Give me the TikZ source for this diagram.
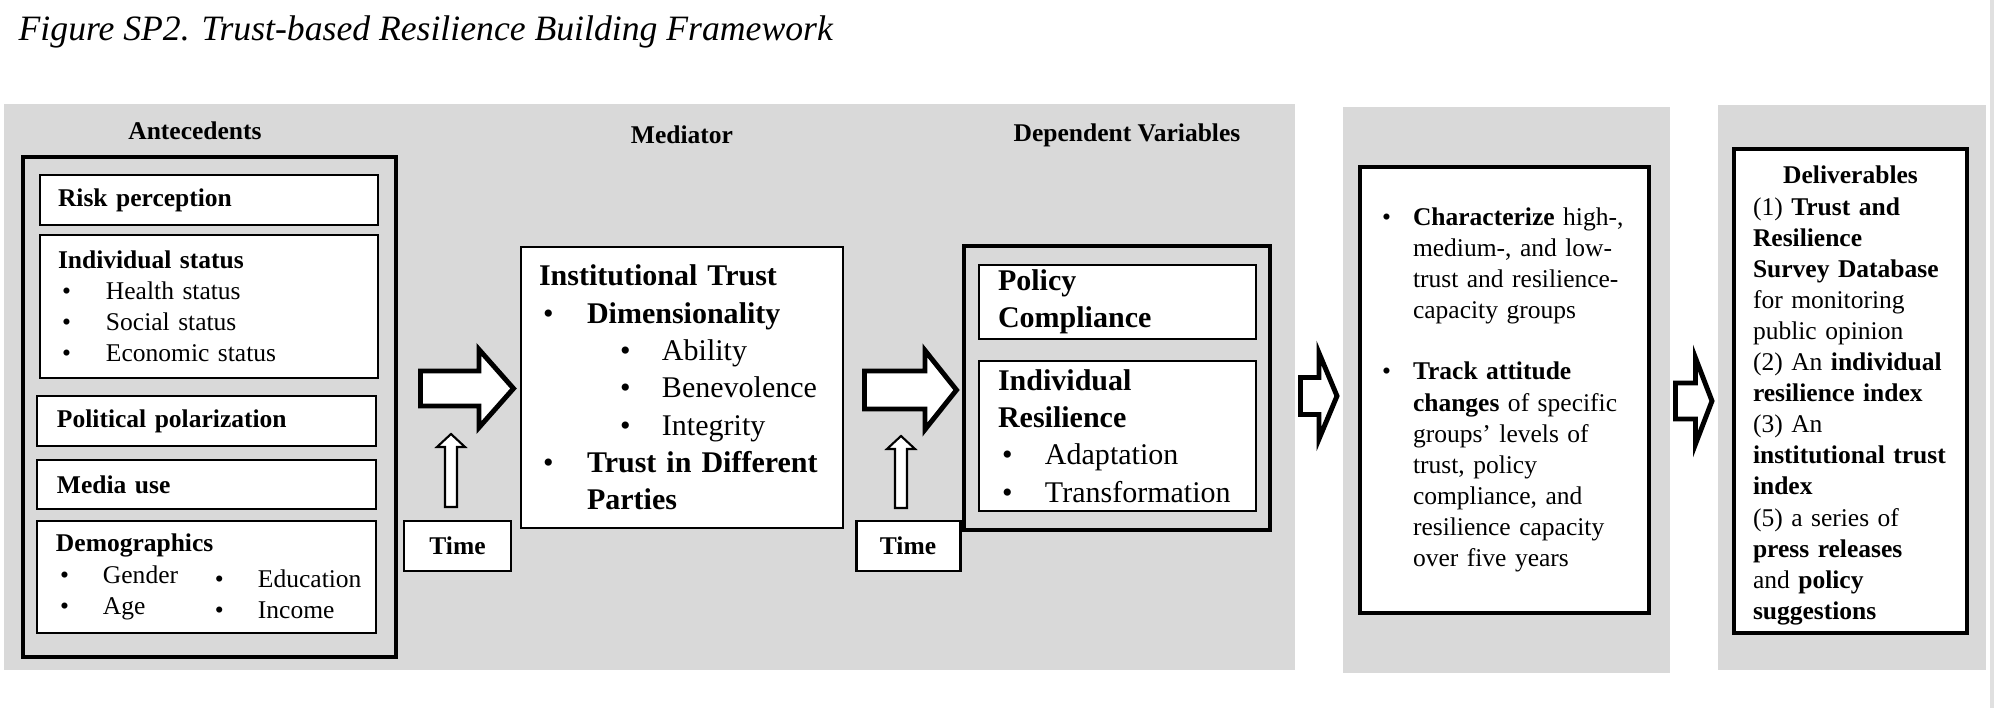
\documentclass[tikz,border=0pt]{standalone}
\usepackage{fontspec}
\setmainfont{Liberation Serif}
\usepackage{tikz}
\definecolor{panelgray}{RGB}{217,217,217}
\newcommand{\bodysize}{\fontsize{7.26pt}{8.85pt}\selectfont}
\newcommand{\bigsize}{\fontsize{8.54pt}{10.6pt}\selectfont}
\newcommand{\padded}[2]{\leftskip=#1\relax #2\par}
\newcommand{\bul}[1]{\makebox[#1][l]{\hspace{0.04cm}\textbullet}}
\newcommand{\blockarrow}[6]{%
	\draw[blockarr] (#1,#4-#5) -- (#2,#4-#5) -- (#2,#4-#6) -- (#3,#4)
		-- (#2,#4+#6) -- (#2,#4+#5) -- (#1,#4+#5) -- cycle;}
\newcommand{\timearrow}[3]{%
	\draw[timearr] (#1-0.06,#2) -- (#1-0.06,#3+0.13) -- (#1-0.14,#3+0.13) -- (#1,#3)
		-- (#1+0.14,#3+0.13) -- (#1+0.06,#3+0.13) -- (#1+0.06,#2) -- cycle;}

\begin{document}
\begin{tikzpicture}[y=-1cm]
	\tikzstyle{box} = [draw, fill=white, line width=0.8pt, inner sep=0pt, align=left, font=\bodysize]
	\tikzstyle{bigbox} = [box, font=\bigsize]
	\tikzstyle{outer} = [draw, line width=1.15pt, inner sep=0pt]
	\tikzstyle{head} = [inner sep=0pt, font=\bodysize\bfseries]
	\tikzstyle{timebox} = [draw, fill=white, line width=0.85pt, minimum height=0.5cm, inner sep=0pt, font=\bodysize\bfseries]
	\tikzstyle{blockarr} = [draw, fill=white, line width=1.4pt, line join=miter]
	\tikzstyle{timearr} = [draw, fill=white, line width=0.6pt]

	\fill[white] (0,0) rectangle (19.94,7.08);
	\path[use as bounding box] (0,0) rectangle (19.94,7.08);
	\fill[black!12] (19.90,0) rectangle (19.94,7.08);
	\fill[panelgray] (0.04,1.04) rectangle (12.95,6.70);
	\fill[panelgray] (13.43,1.07) rectangle (16.70,6.73);
	\fill[panelgray] (17.18,1.05) rectangle (19.86,6.70);

	\node[anchor=base west, inner sep=0pt, font=\fontsize{10.15pt}{12pt}\selectfont\itshape] (title) at (0.18,0.41) {Figure SP2. Trust-based Resilience Building Framework};

	\node[head] (anthead) at (1.95,1.31) {Antecedents};
	\node[head] (medhead) at (6.82,1.35) {Mediator};
	\node[head] (dvhead) at (11.27,1.35) {Dependent Variables};

	\node[outer, minimum width=3.73cm, minimum height=5.00cm] (ante) at (2.095,4.07) {};
	\node[box, text width=3.38cm, minimum height=0.50cm] (risk) at (2.09,2.00) {\padded{0.18cm}{\textbf{Risk perception}}};
	\node[box, text width=3.38cm, minimum height=1.43cm] (indiv) at (2.09,3.065) {\padded{0.18cm}{\textbf{Individual status}\\
		\bul{0.48cm}Health status\\
		\bul{0.48cm}Social status\\
		\bul{0.48cm}Economic status}};
	\node[box, text width=3.39cm, minimum height=0.50cm] (polit) at (2.065,4.21) {\padded{0.20cm}{\textbf{Political polarization}}};
	\node[box, text width=3.39cm, minimum height=0.49cm] (media) at (2.065,4.845) {\padded{0.20cm}{\textbf{Media use}}};
	\node[box, text width=3.39cm, minimum height=1.12cm] (demo) at (2.065,5.77) {\padded{0.19cm}{\textbf{Demographics}\\
		\makebox[1.55cm][l]{\bul{0.47cm}Gender}\rlap{\raisebox{-0.04cm}{\bul{0.47cm}Education}}\\
		\makebox[1.55cm][l]{\bul{0.47cm}Age}\rlap{\raisebox{-0.04cm}{\bul{0.47cm}Income}}}};

	\node[bigbox, text width=3.22cm, minimum height=2.81cm] (med) at (6.82,3.875) {\padded{0.18cm}{\textbf{Institutional Trust}\\
		\bul{0.48cm}\textbf{Dimensionality}\\
		\hspace*{0.77cm}\bul{0.46cm}Ability\\
		\hspace*{0.77cm}\bul{0.46cm}Benevolence\\
		\hspace*{0.77cm}\bul{0.46cm}Integrity\\
		\bul{0.48cm}\textbf{Trust in Different}\\
		\hspace*{0.48cm}\textbf{Parties}}};

	\node[outer, minimum width=3.06cm, minimum height=2.84cm] (dv) at (11.17,3.88) {};
	\node[bigbox, text width=2.77cm, minimum height=0.74cm] (policy) at (11.175,3.02) {\padded{0.19cm}{\textbf{Policy}\\
		\textbf{Compliance}}};
	\node[bigbox, text width=2.77cm, minimum height=1.50cm] (indres) at (11.175,4.36) {\padded{0.19cm}{\textbf{Individual}\\
		\textbf{Resilience}\\
		\bul{0.47cm}Adaptation\\
		\bul{0.47cm}Transformation}};

	\node[timebox, minimum width=1.07cm] (time1) at (4.575,5.46) {Time};
	\node[timebox, minimum width=1.04cm] (time2) at (9.08,5.46) {Time};

	\node[box, text width=2.89cm, minimum height=4.46cm, line width=0.9pt] (track) at (15.045,3.90) {\padded{0.18cm}{\bul{0.35cm}\textbf{Characterize} high-,\\
		\hspace*{0.35cm}medium-, and low-\\
		\hspace*{0.35cm}trust and resilience-\\
		\hspace*{0.35cm}capacity groups\\[0.3cm]
		\bul{0.35cm}\textbf{Track attitude}\\
		\hspace*{0.35cm}\textbf{changes} of specific\\
		\hspace*{0.35cm}groups' levels of\\
		\hspace*{0.35cm}trust, policy\\
		\hspace*{0.35cm}compliance, and\\
		\hspace*{0.35cm}resilience capacity\\
		\hspace*{0.35cm}over five years}};

	\node[box, text width=2.33cm, minimum height=4.84cm, line width=1.1pt] (deliv) at (18.505,3.91) {\padded{0.19cm}{\rule{0pt}{0.27cm}\makebox[1.95cm][c]{\textbf{Deliverables}}\\
		(1) \textbf{Trust and}\\
		\textbf{Resilience}\\
		\textbf{Survey Database}\\
		for monitoring\\
		public opinion\\
		(2) An \textbf{individual}\\
		\textbf{resilience index}\\
		(3) An\\
		\textbf{institutional trust}\\
		\textbf{index}\\
		(5) a series of\\
		\textbf{press releases}\\
		and \textbf{policy}\\
		\textbf{suggestions}}};

	\blockarrow{4.205}{4.79}{5.135}{3.885}{0.175}{0.39}
	\blockarrow{8.645}{9.25}{9.565}{3.90}{0.19}{0.395}
	\blockarrow{13.005}{13.19}{13.37}{3.96}{0.185}{0.43}
	\blockarrow{16.755}{16.955}{17.12}{4.01}{0.18}{0.43}

	\timearrow{4.51}{5.07}{4.34}
	\timearrow{9.01}{5.08}{4.36}
\end{tikzpicture}
\end{document}
